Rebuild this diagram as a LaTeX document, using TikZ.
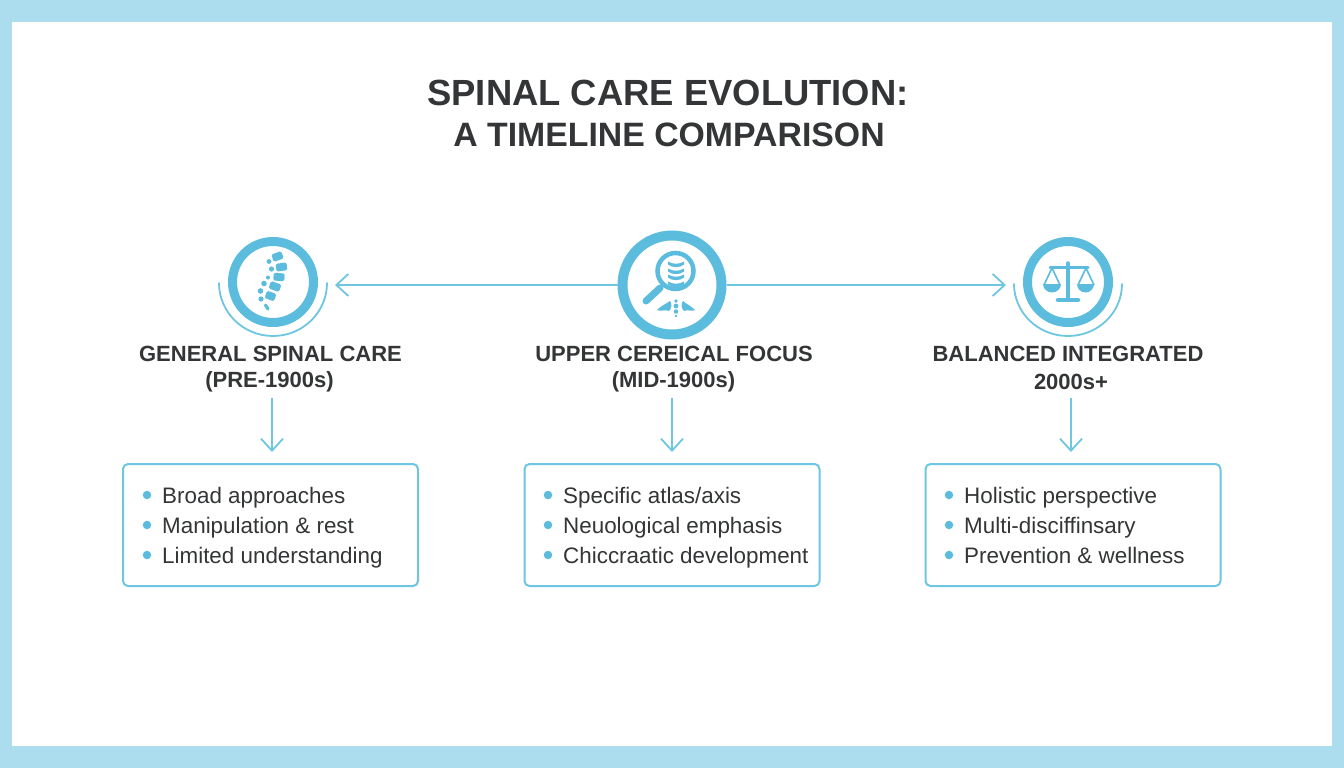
\documentclass[tikz,border=0pt]{standalone}
\usepackage{fontspec}
\setmainfont{Liberation Sans}
\definecolor{frameblue}{HTML}{ABDDEE}
\definecolor{ringblue}{HTML}{5BBCDD}
\definecolor{lineblue}{HTML}{6FC6E1}
\definecolor{ink}{HTML}{333536}
\usetikzlibrary{arrows.meta}
\tikzset{
  ringnode/.style={circle,draw=ringblue,fill=white,line width=9pt,minimum size=81pt,inner sep=0pt},
  halfarc/.style={draw=lineblue,line width=1.8pt,line cap=round},
  conn/.style={draw=lineblue,line width=1.8pt,-{Straight Barb[length=12pt,width=22pt,line width=1.8pt]}},
  infobox/.style={draw=lineblue,line width=2pt,rounded corners=5pt,minimum width=295pt,minimum height=122pt,inner sep=0pt,fill=white},
  ttl/.style={font=\fontsize{36.4}{38}\selectfont\bfseries,text=ink,inner sep=0pt,anchor=center},
  hd/.style={font=\fontsize{22}{24}\selectfont\bfseries,text=ink,inner sep=0pt,anchor=center},
  item/.style={font=\fontsize{22.4}{24}\selectfont,text=ink,inner sep=0pt,anchor=base west},
  dotb/.style={circle,fill=ringblue,inner sep=0pt,minimum size=8.5pt}
}
\begin{document}
\begin{tikzpicture}[x=1pt,y=-1pt]
\useasboundingbox (0,0) rectangle (1344,768);
\fill[frameblue] (0,0) rectangle (1344,768);
\fill[white] (12,22) rectangle (1332,746);
\node[ttl] (t1) at (668,93) {SPINAL CARE EVOLUTION:};
\node[ttl,font=\fontsize{33.8}{36}\selectfont\bfseries] (t2) at (669,135) {A TIMELINE COMPARISON};
\coordinate (tipL) at (335,285);
\coordinate (tipR) at (1006,285);
\node[ringnode] (c1) at (273,282) {};
\node[ringnode,minimum size=99pt,line width=10pt] (c2) at (672,285) {};
\node[ringnode] (c3) at (1068,282) {};
\draw[conn] (c2.west) -- (tipL);
\draw[conn] (c2.east) -- (tipR);
\draw[halfarc] (219,283) arc[start angle=180,end angle=360,x radius=54,y radius=-53];
\draw[halfarc] (1014,284) arc[start angle=180,end angle=360,x radius=54,y radius=-52];
% spine
\foreach \x/\y/\a/\s in {277.5/256.5/20/10.5,281.5/267/8/11,279/277/-5/11,275/286.5/-20/11,270.5/296/-20/10}{
  \fill[ringblue,rounded corners=1.5pt,rotate around={\a:(\x,\y)}] (\x-\s/2,\y-3.9) rectangle (\x+\s/2,\y+3.9);}
\foreach \x/\y/\r in {269/261.5/2.4,271.5/269/2.6,268/277.5/2,264/283.5/2.8,260.5/291/2.8,261/299/2.6}{
  \fill[ringblue] (\x,\y) circle[radius=\r];}
\draw[ringblue,line width=3.2pt,line cap=round] (265.5,305) -- (268,309);
% magnifier
\draw[ringblue,line width=4.5pt] (675.5,271) circle[radius=18];
\draw[ringblue,line width=7pt,line cap=round] (660,288) -- (646,301);
\foreach \y in {264,271,277,284}{
  \fill[ringblue] (668,\y-2.5) .. controls (673,\y+0.5) and (679,\y+0.5) .. (684,\y-2.5) -- (684,\y+0.5) .. controls (680,\y+4) and (672,\y+4) .. (668,\y+0.5) -- cycle;}
\foreach \y/\r in {301/1.8,306/2.4,311.5/2.2,316/1.4}{\fill[ringblue] (676,\y) circle[radius=\r];}
\fill[ringblue] (657,310) .. controls (662,305) and (666,304) .. (670,301) .. controls (672,304) and (672,308) .. (669,311) .. controls (665,309) and (661,312) .. (657,310) -- cycle;
\fill[ringblue] (695,310) .. controls (690,305) and (686,304) .. (683,301) .. controls (681,304) and (681,308) .. (684,311) .. controls (688,309) and (691,312) .. (695,310) -- cycle;
% scales
\draw[ringblue,line width=3.5pt,line cap=round] (1068,263) -- (1068,299);
\draw[ringblue,line width=3pt,line cap=round] (1050,267.5) -- (1088,267.5);
\draw[ringblue,line width=4.5pt,line cap=round] (1058,300) -- (1078,300);
\draw[ringblue,line width=1.6pt] (1044,285) -- (1052,268) -- (1060,285);
\draw[ringblue,line width=1.6pt] (1078,285) -- (1086,268) -- (1094,285);
\fill[ringblue] (1043,284) arc[start angle=180,end angle=360,x radius=9,y radius=-8.5] -- cycle;
\fill[ringblue] (1077,284) arc[start angle=180,end angle=360,x radius=8.5,y radius=-8.5] -- cycle;
% headings
\node[hd] (h1a) at (270.5,354) {GENERAL SPINAL CARE};
\node[hd] (h1b) at (269.5,382) {(PRE-1900s)};
\node[hd] (h2a) at (674,354) {UPPER CEREICAL FOCUS};
\node[hd] (h2b) at (673.5,382) {(MID-1900s)};
\node[hd] (h3a) at (1068,354) {BALANCED INTEGRATED};
\node[hd] (h3b) at (1071,382) {2000s+};
% boxes
\node[infobox] (b1) at (270.5,525) {};
\node[infobox] (b2) at (672,525) {};
\node[infobox] (b3) at (1073,525) {};
\coordinate (s1) at (272,398);
\coordinate (s2) at (672,398);
\coordinate (s3) at (1071,398);
\draw[conn,shorten >=11pt] (s1) -- (s1 |- b1.north);
\draw[conn,shorten >=11pt] (s2) -- (s2 |- b2.north);
\draw[conn,shorten >=11pt] (s3) -- (s3 |- b3.north);
% items
\foreach \b/\x/\la/\lb/\lc in {
  1/147/Broad approaches/Manipulation \& rest/Limited understanding,
  2/548/Specific atlas\slash axis/Neuological emphasis/Chiccraatic development,
  3/949/Holistic perspective/Multi-disciffinsary/Prevention \& wellness}{
  \node[dotb] (d\b a) at (\x,495) {};
  \node[dotb] (d\b b) at (\x,525) {};
  \node[dotb] (d\b c) at (\x,555) {};
  \node[item] (i\b a) at (\x+15,503) {\la};
  \node[item] (i\b b) at (\x+15,533) {\lb};
  \node[item] (i\b c) at (\x+15,563) {\lc};
}
\end{tikzpicture}
\end{document}
